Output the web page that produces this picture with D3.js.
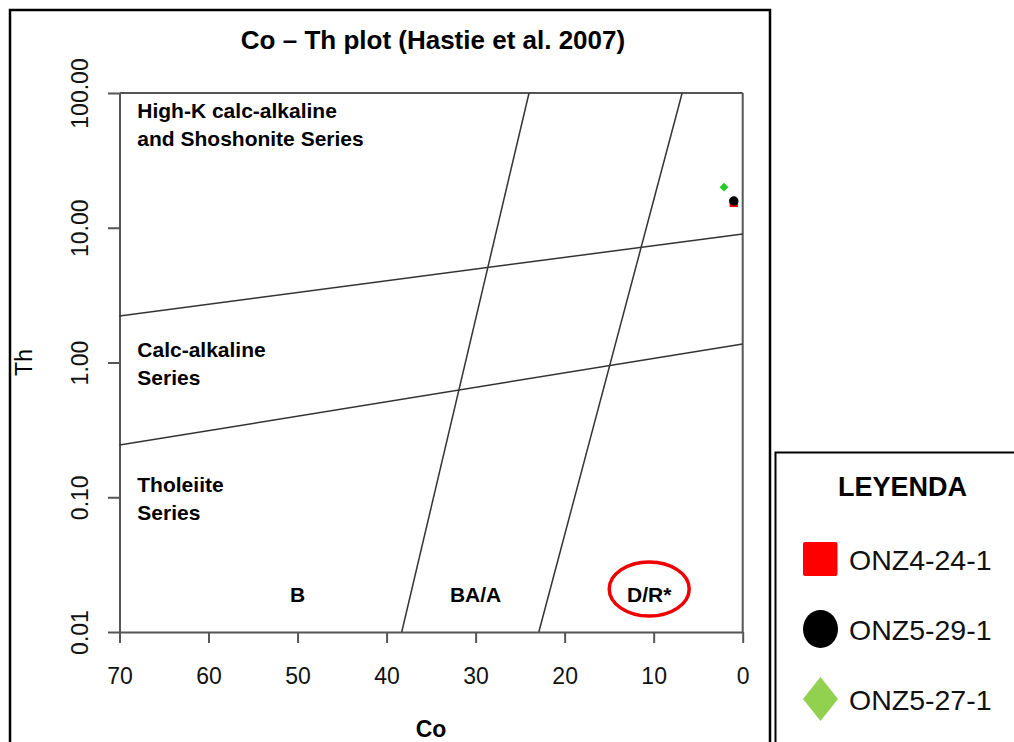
<!DOCTYPE html>
<html>
<head>
<meta charset="utf-8">
<script src="https://cdn.jsdelivr.net/npm/d3@7"></script>
<style>
  html, body { margin: 0; padding: 0; background: #fff; }
  svg { display: block; font-family: "Liberation Sans", Arial, Helvetica, sans-serif; }
</style>
</head>
<body>
<svg id="chart" width="1014" height="742"></svg>
<script>
// ---- data ----
const coTicks = [70, 60, 50, 40, 30, 20, 10, 0];
const thTicks = [100, 10, 1, 0.1, 0.01];
const thTickLabels = ["100.00", "10.00", "1.00", "0.10", "0.01"];

// boundary lines (Co, Th)
const highKBoundary = [[70, 2.21], [0, 9.0]];
const tholeiiteBoundary = [[70, 0.244], [0, 1.37]];
const bBaBoundary = [[38.3, 0.01], [24.0, 100]];
const baDrBoundary = [[22.9, 0.01], [6.8, 100]];

// samples
const sampleNames = ["ONZ4-24-1", "ONZ5-29-1", "ONZ5-27-1"];
const sampleCo = [1.0, 1.0, 2.1];
const sampleTh = [15.3, 15.8, 20.0];
const sampleShapes = ["square", "circle", "diamond"];
const samplePlotColors = ["#ff0000", "#000000", "#22cc22"];
const sampleLegendColors = ["#ff0000", "#000000", "#92d050"];

const seriesLabels = [["High-K calc-alkaline", "and Shoshonite Series"], ["Calc-alkaline", "Series"], ["Tholeiite", "Series"]];
const rockLabels = ["B", "BA/A", "D/R*"];

// ---- drawing ----
const svg = d3.select("#chart");
const x = d3.scaleLinear().domain([70, 0]).range([119.5, 742.7]);
const y = d3.scaleLog().domain([0.01, 100]).range([632, 93]);
const axisColor = "#555";

// outer frame
svg.append("rect").attr("x", 10).attr("y", 10).attr("width", 760).attr("height", 760)
  .attr("fill", "none").attr("stroke", "#000").attr("stroke-width", 2.5);

// title
svg.append("text").attr("x", 433).attr("y", 49).attr("text-anchor", "middle")
  .attr("font-size", 26).attr("font-weight", "bold").text("Co \u2013 Th plot (Hastie et al. 2007)");

// axes
const gx = svg.append("g").attr("transform", "translate(0,632)")
  .call(d3.axisBottom(x).tickValues(coTicks).tickSize(11).tickSizeOuter(0).tickPadding(25).tickFormat(d3.format("d")));
gx.selectAll("text").attr("font-size", 23).attr("fill", "#111");

const gy = svg.append("g").attr("transform", "translate(119.5,0)")
  .call(d3.axisLeft(y).tickValues(thTicks).tickSize(11.5).tickSizeOuter(0).tickFormat((d, i) => thTickLabels[i]));
gy.selectAll("text").attr("x", null).attr("dy", null).attr("text-anchor", "middle")
  .attr("transform", "translate(-31.5,0) rotate(-90)").attr("font-size", 23).attr("fill", "#111");

[gx, gy].forEach(g => {
  g.attr("font-family", null);
  g.selectAll("path,line").attr("stroke", axisColor).attr("stroke-width", 2);
});

// top and right frame of plot
svg.append("line").attr("x1", x(70)).attr("x2", x(0)).attr("y1", y(100)).attr("y2", y(100))
  .attr("stroke", axisColor).attr("stroke-width", 2);
svg.append("line").attr("x1", x(0)).attr("x2", x(0)).attr("y1", y(100)).attr("y2", y(0.01))
  .attr("stroke", axisColor).attr("stroke-width", 2);

// axis titles
svg.append("text").attr("x", x(35)).attr("y", 737).attr("text-anchor", "middle")
  .attr("font-size", 23).attr("font-weight", "bold").text("Co");
svg.append("text").attr("transform", `translate(32,${y(1)}) rotate(-90)`).attr("text-anchor", "middle")
  .attr("font-size", 23).text("Th");

// boundary lines
const line = d3.line().x(d => x(d[0])).y(d => y(d[1]));
[highKBoundary, tholeiiteBoundary, bBaBoundary, baDrBoundary].forEach(b => {
  svg.append("path").attr("d", line(b)).attr("fill", "none").attr("stroke", "#333").attr("stroke-width", 1.5);
});

// series labels
const seriesAnchor = [[68, 65], [68, 1.1], [68, 0.109]];
seriesLabels.forEach((lines, i) => {
  const t = svg.append("text").attr("font-size", 21).attr("font-weight", "bold")
    .attr("x", x(seriesAnchor[i][0])).attr("y", y(seriesAnchor[i][1]));
  lines.forEach((l, j) => t.append("tspan").attr("x", x(seriesAnchor[i][0])).attr("dy", j === 0 ? 0 : 28).text(l));
});

// rock labels
const rockCo = [50, 30, 10.5];
rockLabels.forEach((l, i) => {
  svg.append("text").attr("x", x(rockCo[i])).attr("y", 602).attr("text-anchor", "middle")
    .attr("font-size", 21).attr("font-weight", "bold").text(l);
});
// red ellipse around D/R*
svg.append("ellipse").attr("cx", x(rockCo[2])).attr("cy", 589).attr("rx", 40).attr("ry", 27)
  .attr("fill", "none").attr("stroke", "#ee0000").attr("stroke-width", 3.5);

// sample points
const symbolFor = (shape, size) => {
  if (shape === "square") return d3.symbol(d3.symbolSquare, size)();
  if (shape === "circle") return d3.symbol(d3.symbolCircle, size)();
  return d3.symbol(d3.symbolDiamond2, size)();
};
sampleNames.forEach((n, i) => {
  svg.append("path").attr("d", symbolFor(sampleShapes[i], sampleShapes[i] === "diamond" ? 50 : 70))
    .attr("transform", `translate(${x(sampleCo[i])},${y(sampleTh[i])})`)
    .attr("fill", samplePlotColors[i]);
});

// legend
svg.append("rect").attr("x", 775.5).attr("y", 452.5).attr("width", 260).attr("height", 320)
  .attr("fill", "#fff").attr("stroke", "#000").attr("stroke-width", 2);
svg.append("text").attr("x", 902.5).attr("y", 495.5).attr("text-anchor", "middle")
  .attr("font-size", 27).attr("font-weight", "bold").text("LEYENDA");
const legendY = [559, 629, 699];
sampleNames.forEach((n, i) => {
  const cy = legendY[i];
  if (sampleShapes[i] === "square") {
    svg.append("rect").attr("x", 803).attr("y", cy - 17).attr("width", 34.5).attr("height", 34)
      .attr("rx", 2).attr("fill", sampleLegendColors[i]);
  } else if (sampleShapes[i] === "circle") {
    svg.append("ellipse").attr("cx", 820.5).attr("cy", cy).attr("rx", 17.5).attr("ry", 19)
      .attr("fill", sampleLegendColors[i]);
  } else {
    svg.append("path").attr("d", `M820.5,${cy - 22}L838,${cy}L820.5,${cy + 22}L803,${cy}Z`)
      .attr("fill", sampleLegendColors[i]);
  }
  svg.append("text").attr("x", 849).attr("y", cy + 10.5).attr("font-size", 28.5)
    .attr("fill", "#111").text(n);
});
</script>
</body>
</html>
